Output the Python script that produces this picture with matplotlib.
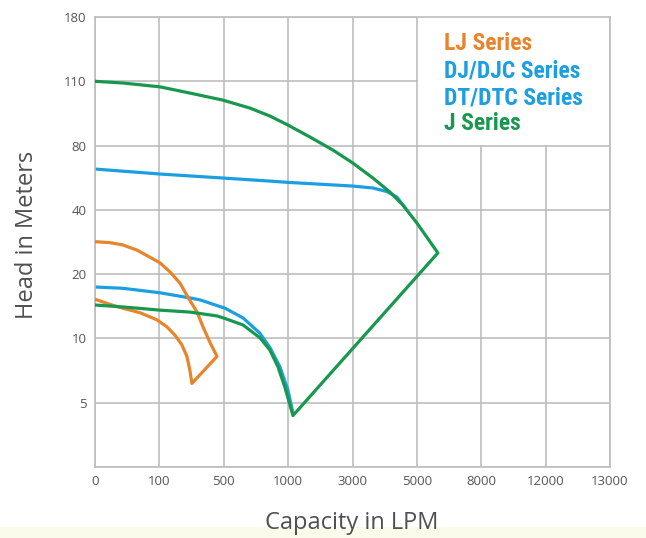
import os
import numpy as np
import matplotlib
matplotlib.use("Agg")
from matplotlib import pyplot as plt
from matplotlib import font_manager as fm
from matplotlib.patches import Rectangle

# axis tick values (equally spaced on the chart)
x_ticks = [0, 100, 500, 1000, 3000, 5000, 8000, 12000, 13000]
y_ticks = [0, 5, 10, 20, 40, 80, 110, 180]
y_tick_labels = ["", "5", "10", "20", "40", "80", "110", "180"]

# LJ series: upper curve, tip, lower curve back to zero flow
lj_flow = [0, 23, 43, 65, 85, 104, 166, 228, 278, 334, 371, 414, 458,
           302, 290, 271, 240, 197, 147, 96, 70, 43, 23, 0]
lj_head = [30.1, 29.8, 29.1, 27.5, 25.3, 23.5, 20.7, 18.6, 16.4, 14.1, 11.8,
           9.7, 8.6, 6.5, 7.5, 8.6, 9.5, 10.5, 11.8, 12.9, 14.0, 14.7, 15.3,
           16.1]

# DJ/DJC series (upper blue), runs into the J curve at its end
dj_flow = [0, 104, 495, 858, 998, 3012, 3634, 4068, 4378, 4628]
dj_head = [65.4, 62.3, 59.8, 57.9, 57.1, 54.8, 53.6, 51.4, 48.0, 41.4]

# DT/DTC series (lower blue)
dt_flow = [0, 43, 104, 290, 352, 510, 649, 781, 858, 936, 998, 1150]
dt_head = [18.0, 17.8, 17.1, 16.3, 16.0, 14.7, 13.2, 10.8, 9.3, 7.8, 6.0, 4.2]

# J series: upper curve, peak, minimum, lower curve back to zero flow
j_flow = [0, 43, 104, 290, 495, 703, 858, 998, 1677, 2392, 3012, 3634, 4162,
          4565, 5000, 5466, 5978, 1150, 975, 921, 858, 781, 649, 510, 458,
          290, 104, 43, 0]
j_head = [110, 109.2, 107.4, 104.5, 101.2, 97.5, 93.8, 89.6, 84.0, 77.2,
          69.1, 59.8, 51.1, 43.0, 35.9, 31.5, 26.6, 4.0, 6.2, 7.8, 9.1, 10.1,
          12.1, 13.1, 13.5, 14.1, 14.4, 14.9, 15.2]

legend_names = ["LJ Series", "DJ/DJC Series", "DT/DTC Series", "J Series"]

ORANGE = "#E8842C"
BLUE = "#1C9FE0"
GREEN = "#18984E"
GRID = "#BDBDBD"
TEXT = "#505050"

x_pos = np.arange(len(x_ticks))
y_pos = np.arange(len(y_ticks))


def x_fwd(v):
    return np.interp(v, x_ticks, x_pos)


def x_inv(p):
    return np.interp(p, x_pos, x_ticks)


def y_fwd(v):
    return np.interp(v, y_ticks, y_pos)


def y_inv(p):
    return np.interp(p, y_pos, y_ticks)


def condensed_bold():
    """Find a bold condensed face for the series names."""
    prefs = ["RobotoCondensed-Bold", "Roboto_Condensed-Bold",
             "NotoSans-CondensedBold", "OpenSans-CondensedBold",
             "OpenSans_Condensed-Bold", "DejaVuSansCondensed-Bold",
             "LiberationSansNarrow-Bold"]
    files = {}
    for f in fm.fontManager.ttflist:
        files[os.path.basename(f.fname).rsplit(".", 1)[0]] = f.fname
    for p in prefs:
        if p in files:
            return fm.FontProperties(fname=files[p])
    for f in fm.fontManager.ttflist:
        if f.stretch in ("condensed", "semi-condensed") and \
                f.weight in ("bold", 700):
            return fm.FontProperties(fname=f.fname)
    return fm.FontProperties(family="DejaVu Sans", weight="bold")


fig = plt.figure(figsize=(6.46, 5.38), dpi=100)
fig.patches.append(Rectangle((0, 0), 1, 11 / 538, transform=fig.transFigure,
                             facecolor="#FBFBEC", edgecolor="none", zorder=0))
ax = fig.add_axes([95 / 646, 71 / 538, 515 / 646, 450 / 538])
ax.set_xscale("function", functions=(x_fwd, x_inv))
ax.set_yscale("function", functions=(y_fwd, y_inv))
ax.set_xlim(0, 13000)
ax.set_ylim(0, 180)
ax.set_xticks(x_ticks)
ax.set_xticklabels([str(t) for t in x_ticks])
ax.set_yticks(y_ticks)
ax.set_yticklabels(y_tick_labels)
ax.minorticks_off()
ax.tick_params(length=0, labelsize=9.5, labelcolor="#555555")
ax.tick_params(axis="x", pad=6)
ax.tick_params(axis="y", pad=6)
for lab in ax.get_xticklabels() + ax.get_yticklabels():
    lab.set_family("Open Sans")

ax.set_axisbelow(True)
ax.grid(True, color=GRID, linewidth=1.2)
for sp in ax.spines.values():
    sp.set_color(GRID)
    sp.set_linewidth(1.2)

# white box behind the series names
ax.add_patch(Rectangle((0.627, 0.716), 0.372, 0.283, transform=ax.transAxes,
                       facecolor="white", edgecolor="none", zorder=1))

lw = 2.3
ax.plot(dj_flow, dj_head, color=BLUE, lw=lw, zorder=2)
ax.plot(dt_flow, dt_head, color=BLUE, lw=lw, zorder=2)
ax.plot(lj_flow, lj_head, color=ORANGE, lw=lw, zorder=3)
ax.plot(j_flow, j_head, color=GREEN, lw=lw, zorder=4)

name_font = condensed_bold()
name_font.set_size(17)
name_colors = [ORANGE, BLUE, BLUE, GREEN]
name_y = [44, 70.5, 97.5, 123]
for name, col, yy in zip(legend_names, name_colors, name_y):
    fig.text(444 / 646, 1 - yy / 538, name, color=col, fontproperties=name_font,
             va="center", ha="left")

fig.text(27 / 646, 1 - 235 / 538, "Head in Meters", rotation=90,
         fontsize=17, color=TEXT, ha="center", va="center",
         family="Open Sans")
fig.text(352 / 646, 1 - 523 / 538, "Capacity in LPM", fontsize=17,
         color=TEXT, ha="center", va="center", family="Open Sans")

fig.savefig("out.png", dpi=100)
